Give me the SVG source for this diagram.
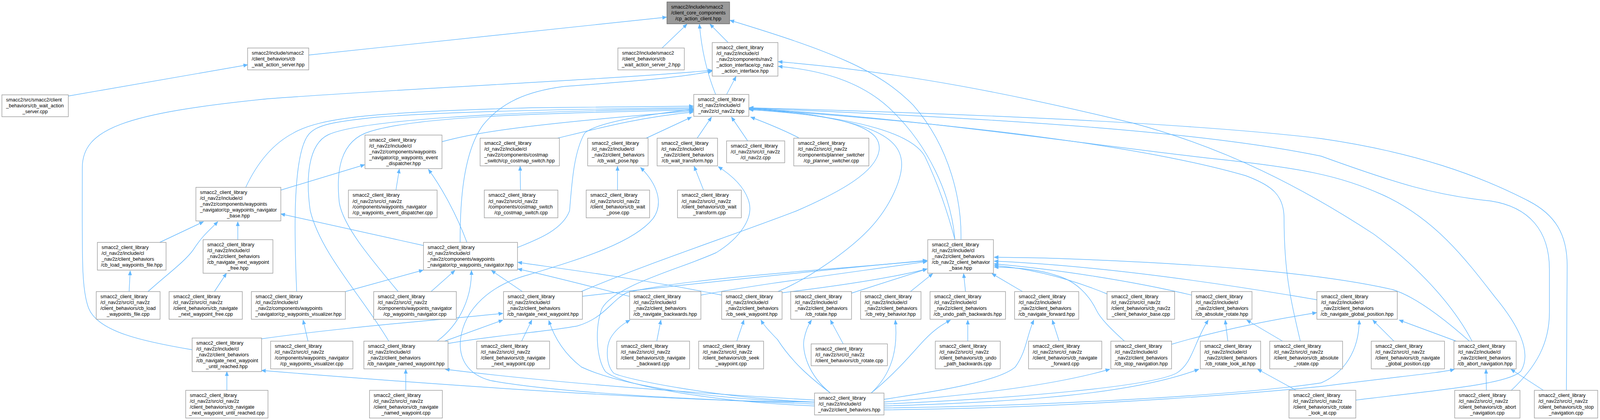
<svg xmlns="http://www.w3.org/2000/svg" width="4239" height="1076" viewBox="0 0 4239 1076">
<style>
.n rect{fill:#fff;stroke:#999;stroke-width:1.4}
.top rect{fill:#999;stroke:#666;stroke-width:1.4}
text{font-family:"Liberation Sans",Arial,sans-serif;font-size:13px;fill:#000}
.c{text-anchor:middle}
#edges path{fill:none;stroke:#63b8ff;stroke-width:1.4;marker-end:url(#ah)}
</style>
<defs>
<marker id="ah" markerWidth="12" markerHeight="10" refX="11" refY="5" orient="auto" markerUnits="userSpaceOnUse"><path d="M0,0.5 L11,5 L0,9.5 z" fill="#63b8ff" stroke="#63b8ff" stroke-width="1"/></marker>
</defs>
<rect width="4239" height="1076" fill="#fff"/>
<g id="diagram" transform="scale(0.966265,1)">
<g id="edges">
<path d="M818,141 L1766,44"/>
<path d="M1754,123 L1820,62"/>
<path d="M1896,242 C1870,180 1858,120 1853,62"/>
<path d="M1929,109 L1881,62"/>
<path d="M2546,614 C2548,520 2520,380 2420,270 C2330,180 2200,130 1934,52"/>
<path d="M1925,242 L1950,196"/>
<path d="M509,896 C380,875 260,850 235,790 C215,740 218,660 218,430 C218,330 330,290 710,253 C1100,225 1600,205 1887,180"/>
<path d="M1219,621 C1219,560 1219,400 1280,320 C1330,260 1400,234 1490,222 C1650,210 1800,200 1887,182"/>
<path d="M2530,614 C2520,500 2460,370 2354,275 C2280,210 2180,180 2062,170"/>
<path d="M3900,874 C3860,800 3780,700 3640,600 C3450,480 3250,380 3000,315 C2700,245 2400,185 2062,158"/>
<path d="M181,246 L656,166"/>
<path d="M651,480 C680,420 720,370 777,341 C850,300 1000,287 1410,276 L1837,272"/>
<path d="M786,747 C782,650 770,400 818,344 C840,320 880,312 1000,300 C1200,285 1500,280 1837,276"/>
<path d="M1030,874 C960,760 850,650 822,540 C810,460 815,370 870,345 C950,310 1300,285 1837,279"/>
<path d="M1055,747 C980,660 910,580 899,520 C890,440 900,360 980,337 C1100,300 1400,290 1837,282"/>
<path d="M1171,363 C1250,343 1350,322 1837,284"/>
<path d="M1477,354 C1600,325 1700,300 1837,287"/>
<path d="M1371,634 C1420,615 1490,590 1509,540 C1515,470 1520,390 1549,341 C1580,315 1700,295 1837,280"/>
<path d="M1712,354 L1832,300"/>
<path d="M1847,354 L1885,300"/>
<path d="M1981,361 L1938,300"/>
<path d="M2116,353 C2080,335 2030,315 1989,300"/>
<path d="M1540,747 C1700,680 1950,600 2111,540 C2230,490 2320,440 2329,386 C2335,340 2290,300 1985,276"/>
<path d="M2061,747 C2150,710 2250,640 2300,590 C2360,530 2395,450 2388,410 C2380,350 2300,300 1985,279"/>
<path d="M2530,614 C2515,560 2490,480 2450,400 C2420,350 2300,300 1985,281"/>
<path d="M4150,1000 L4152,680 C4152,600 4120,550 4050,515 C3920,450 3750,390 3500,355 C3200,320 2700,295 1985,276"/>
<path d="M4004,1000 C4070,940 4105,880 4105,800 L4105,690 C4105,590 4050,530 3950,515 C3800,500 3700,470 3500,400 C3200,340 2700,305 1985,277"/>
<path d="M3592,1025 C3800,1000 4000,985 4030,950 C4060,900 4020,830 3960,760 C3880,660 3800,560 3665,500 C3550,450 3450,430 3200,405 C2800,360 2400,300 1985,278"/>
<path d="M3445,874 C3420,770 3402,700 3402,560 C3402,500 3370,475 3300,450 C3050,380 2600,320 1985,279"/>
<path d="M601,1000 L601,952"/>
<path d="M2158,1030 C1900,1030 1400,1005 693,949"/>
<path d="M693,868 C900,840 1100,825 1332,803"/>
<path d="M423,621 L539,568"/>
<path d="M392,747 C440,705 490,670 512,640 C535,605 555,590 577,568"/>
<path d="M630,614 L630,568"/>
<path d="M568,747 L600,700"/>
<path d="M1122,629 L744,548"/>
<path d="M744,487 L966,422"/>
<path d="M1049,487 L1058,433"/>
<path d="M1237,621 C1210,550 1170,480 1135,434"/>
<path d="M1379,487 L1378,426"/>
<path d="M1636,487 L1636,426"/>
<path d="M2158,1035 C1900,1025 1500,1010 1300,975 C1240,960 1215,920 1220,870 C1230,790 1300,730 1400,704 C1550,660 1680,620 1730,560 C1760,520 1740,470 1697,429"/>
<path d="M1864,487 L1839,426"/>
<path d="M2158,1040 C1900,1030 1650,990 1604,952 C1580,920 1575,840 1595,790 C1630,730 1800,690 1898,647 C1960,610 1995,560 1985,520 C1975,480 1940,450 1903,427"/>
<path d="M915,747 L1121,692"/>
<path d="M1142,747 L1205,693"/>
<path d="M1158,874 C1220,830 1250,760 1249,693"/>
<path d="M1384,747 L1302,693"/>
<path d="M1912,756 C1700,715 1500,690 1372,672"/>
<path d="M1667,759 C1550,730 1450,705 1372,689"/>
<path d="M816,874 L803,820"/>
<path d="M342,747 L345,694"/>
<path d="M1075,1000 L1075,946"/>
<path d="M2158,1025 C1900,1010 1500,985 1180,946"/>
<path d="M1178,874 L1332,820"/>
<path d="M1382,874 L1409,820"/>
<path d="M2158,1030 C1900,1025 1650,990 1540,940 C1500,910 1470,870 1454,821"/>
<path d="M1543,759 C1900,720 2200,690 2456,667"/>
<path d="M1187,880 C1300,860 1450,850 1530,835 C1600,815 1620,770 1660,750 C1800,715 2200,690 2456,668"/>
<path d="M1857,756 C2000,730 2200,705 2456,670"/>
<path d="M2072,750 C2200,735 2350,715 2456,689"/>
<path d="M2256,751 L2456,689"/>
<path d="M2412,747 L2471,701"/>
<path d="M2558,747 L2553,701"/>
<path d="M2709,747 L2628,701"/>
<path d="M2933,753 C2850,720 2750,690 2634,680"/>
<path d="M3157,756 C3000,720 2800,690 2634,676"/>
<path d="M3489,768 C3200,720 2900,680 2634,669"/>
<path d="M2979,874 C2940,840 2915,815 2905,795 C2885,755 2850,720 2800,706 C2750,690 2700,686 2634,684"/>
<path d="M3893,874 C3830,820 3750,760 3690,742 C3500,700 3200,676 2800,662 C2750,660 2700,660 2634,659"/>
<path d="M1740,874 L1751,820"/>
<path d="M2158,1030 C1900,1020 1650,970 1626,956 C1605,935 1605,890 1617,867 C1630,845 1650,830 1669,820"/>
<path d="M1952,874 L1971,820"/>
<path d="M2200,1007 C2150,970 2100,930 2060,870 C2040,850 2025,835 2016,820"/>
<path d="M2234,881 L2200,820"/>
<path d="M2200,1007 C2140,960 2125,900 2130,870 C2135,845 2143,830 2150,820"/>
<path d="M2308,1007 C2360,960 2380,900 2372,820"/>
<path d="M2564,874 L2564,820"/>
<path d="M2308,1007 C2380,950 2420,900 2450,870 C2480,840 2500,830 2518,820"/>
<path d="M2806,874 L2788,820"/>
<path d="M2342,1023 C2500,1000 2650,975 2690,940 C2720,900 2720,860 2739,820"/>
<path d="M2342,1030 C2600,1010 2800,985 2940,946"/>
<path d="M2342,1035 C2700,1020 3050,990 3117,956 C3160,930 3162,880 3201,820"/>
<path d="M2342,1040 C2700,1030 3000,1010 3176,946"/>
<path d="M2342,1045 C2800,1040 3300,1010 3500,981 C3560,956 3601,900 3601,820"/>
<path d="M2342,1050 C2900,1045 3400,1000 3510,989 C3700,965 3820,955 3853,946"/>
<path d="M3253,874 L3246,820"/>
<path d="M3398,874 L3303,820"/>
<path d="M3434,1000 L3332,946"/>
<path d="M3104,882 C3250,840 3400,815 3488,801"/>
<path d="M3693,874 L3637,820"/>
<path d="M3858,874 L3707,820"/>
<path d="M3938,1000 L3937,946"/>
<path d="M4089,1000 L4003,946"/>
</g>
<g id="n_top" class="top"><rect x="1767" y="5" width="166" height="56"/><text x="1778" y="22.5">smacc2/include/smacc2</text><text x="1778" y="37.5">/client_core_components</text><text class="c" x="1850" y="52.5">/cp_action_client.hpp</text></g>
<g id="n_was_hpp" class="n"><rect x="656" y="123" width="162" height="56"/><text x="667" y="140.5">smacc2/include/smacc2</text><text x="667" y="155.5">/client_behaviors/cb</text><text class="c" x="737" y="170.5">_wait_action_server.hpp</text></g>
<g id="n_was2_hpp" class="n"><rect x="1637" y="123" width="176" height="56"/><text x="1648" y="140.5">smacc2/include/smacc2</text><text x="1648" y="155.5">/client_behaviors/cb</text><text class="c" x="1725" y="170.5">_wait_action_server_2.hpp</text></g>
<g id="n_nai" class="n"><rect x="1887" y="109" width="174" height="86"/><text x="1898" y="126.5">smacc2_client_library</text><text x="1898" y="141.5">/cl_nav2z/include/cl</text><text x="1898" y="156.5">_nav2z/components/nav2</text><text x="1898" y="171.5">_action_interface/cp_nav2</text><text class="c" x="1974" y="186.5">_action_interface.hpp</text></g>
<g id="n_was_cpp" class="n"><rect x="5" y="243" width="176" height="56"/><text x="16" y="260.5">smacc2/src/smacc2/client</text><text x="16" y="275.5">_behaviors/cb_wait_action</text><text class="c" x="93" y="290.5">_server.cpp</text></g>
<g id="n_cl" class="n"><rect x="1838" y="242" width="146" height="56"/><text x="1849" y="259.5">smacc2_client_library</text><text x="1849" y="274.5">/cl_nav2z/include/cl</text><text class="c" x="1911" y="289.5">_nav2z/cl_nav2z.hpp</text></g>
<g id="n_ed_hpp" class="n"><rect x="967" y="346" width="204" height="86"/><text x="978" y="363.5">smacc2_client_library</text><text x="978" y="378.5">/cl_nav2z/include/cl</text><text x="978" y="393.5">_nav2z/components/waypoints</text><text x="978" y="408.5">_navigator/cp_waypoints_event</text><text class="c" x="1069" y="423.5">_dispatcher.hpp</text></g>
<g id="n_cs_hpp" class="n"><rect x="1272" y="354" width="210" height="71"/><text x="1283" y="371.5">smacc2_client_library</text><text x="1283" y="386.5">/cl_nav2z/include/cl</text><text x="1283" y="401.5">_nav2z/components/costmap</text><text class="c" x="1377" y="416.5">_switch/cp_costmap_switch.hpp</text></g>
<g id="n_wp_hpp" class="n"><rect x="1557" y="354" width="160" height="71"/><text x="1568" y="371.5">smacc2_client_library</text><text x="1568" y="386.5">/cl_nav2z/include/cl</text><text x="1568" y="401.5">_nav2z/client_behaviors</text><text class="c" x="1637" y="416.5">/cb_wait_pose.hpp</text></g>
<g id="n_wt_hpp" class="n"><rect x="1741" y="354" width="160" height="71"/><text x="1752" y="371.5">smacc2_client_library</text><text x="1752" y="386.5">/cl_nav2z/include/cl</text><text x="1752" y="401.5">_nav2z/client_behaviors</text><text class="c" x="1821" y="416.5">/cb_wait_transform.hpp</text></g>
<g id="n_cl_cpp" class="n"><rect x="1925" y="361" width="154" height="56"/><text x="1936" y="378.5">smacc2_client_library</text><text x="1936" y="393.5">/cl_nav2z/src/cl_nav2z</text><text class="c" x="2002" y="408.5">/cl_nav2z.cpp</text></g>
<g id="n_ps_cpp" class="n"><rect x="2103" y="354" width="199" height="71"/><text x="2114" y="371.5">smacc2_client_library</text><text x="2114" y="386.5">/cl_nav2z/src/cl_nav2z</text><text x="2114" y="401.5">/components/planner_switcher</text><text class="c" x="2202.5" y="416.5">/cp_planner_switcher.cpp</text></g>
<g id="n_base" class="n"><rect x="519" y="480" width="225" height="86"/><text x="530" y="497.5">smacc2_client_library</text><text x="530" y="512.5">/cl_nav2z/include/cl</text><text x="530" y="527.5">_nav2z/components/waypoints</text><text x="530" y="542.5">_navigator/cp_waypoints_navigator</text><text class="c" x="631.5" y="557.5">_base.hpp</text></g>
<g id="n_ed_cpp" class="n"><rect x="923" y="487" width="235" height="71"/><text x="934" y="504.5">smacc2_client_library</text><text x="934" y="519.5">/cl_nav2z/src/cl_nav2z</text><text x="934" y="534.5">/components/waypoints_navigator</text><text class="c" x="1040.5" y="549.5">/cp_waypoints_event_dispatcher.cpp</text></g>
<g id="n_cs_cpp" class="n"><rect x="1283" y="487" width="195" height="71"/><text x="1294" y="504.5">smacc2_client_library</text><text x="1294" y="519.5">/cl_nav2z/src/cl_nav2z</text><text x="1294" y="534.5">/components/costmap_switch</text><text class="c" x="1380.5" y="549.5">/cp_costmap_switch.cpp</text></g>
<g id="n_wp_cpp" class="n"><rect x="1553" y="487" width="168" height="71"/><text x="1564" y="504.5">smacc2_client_library</text><text x="1564" y="519.5">/cl_nav2z/src/cl_nav2z</text><text x="1564" y="534.5">/client_behaviors/cb_wait</text><text class="c" x="1637" y="549.5">_pose.cpp</text></g>
<g id="n_wt_cpp" class="n"><rect x="1795" y="487" width="169" height="71"/><text x="1806" y="504.5">smacc2_client_library</text><text x="1806" y="519.5">/cl_nav2z/src/cl_nav2z</text><text x="1806" y="534.5">/client_behaviors/cb_wait</text><text class="c" x="1879.5" y="549.5">_transform.cpp</text></g>
<g id="n_lwf_hpp" class="n"><rect x="258" y="621" width="182" height="71"/><text x="269" y="638.5">smacc2_client_library</text><text x="269" y="653.5">/cl_nav2z/include/cl</text><text x="269" y="668.5">_nav2z/client_behaviors</text><text class="c" x="349" y="683.5">/cb_load_waypoints_file.hpp</text></g>
<g id="n_free_hpp" class="n"><rect x="538" y="614" width="185" height="86"/><text x="549" y="631.5">smacc2_client_library</text><text x="549" y="646.5">/cl_nav2z/include/cl</text><text x="549" y="661.5">_nav2z/client_behaviors</text><text x="549" y="676.5">/cb_navigate_next_waypoint</text><text class="c" x="630.5" y="691.5">_free.hpp</text></g>
<g id="n_wn_hpp" class="n"><rect x="1122" y="621" width="249" height="71"/><text x="1133" y="638.5">smacc2_client_library</text><text x="1133" y="653.5">/cl_nav2z/include/cl</text><text x="1133" y="668.5">_nav2z/components/waypoints</text><text class="c" x="1246.5" y="683.5">_navigator/cp_waypoints_navigator.hpp</text></g>
<g id="n_cbb_hpp" class="n"><rect x="2458" y="614" width="174" height="86"/><text x="2469" y="631.5">smacc2_client_library</text><text x="2469" y="646.5">/cl_nav2z/include/cl</text><text x="2469" y="661.5">_nav2z/client_behaviors</text><text x="2469" y="676.5">/cb_nav2z_client_behavior</text><text class="c" x="2545" y="691.5">_base.hpp</text></g>
<g id="n_lwf_cpp" class="n"><rect x="255" y="747" width="169" height="71"/><text x="266" y="764.5">smacc2_client_library</text><text x="266" y="779.5">/cl_nav2z/src/cl_nav2z</text><text x="266" y="794.5">/client_behaviors/cb_load</text><text class="c" x="339.5" y="809.5">_waypoints_file.cpp</text></g>
<g id="n_free_cpp" class="n"><rect x="448" y="747" width="194" height="71"/><text x="459" y="764.5">smacc2_client_library</text><text x="459" y="779.5">/cl_nav2z/src/cl_nav2z</text><text x="459" y="794.5">/client_behaviors/cb_navigate</text><text class="c" x="545" y="809.5">_next_waypoint_free.cpp</text></g>
<g id="n_vis_hpp" class="n"><rect x="666" y="747" width="249" height="71"/><text x="677" y="764.5">smacc2_client_library</text><text x="677" y="779.5">/cl_nav2z/include/cl</text><text x="677" y="794.5">_nav2z/components/waypoints</text><text class="c" x="790.5" y="809.5">_navigator/cp_waypoints_visualizer.hpp</text></g>
<g id="n_wn_cpp" class="n"><rect x="990" y="747" width="219" height="71"/><text x="1001" y="764.5">smacc2_client_library</text><text x="1001" y="779.5">/cl_nav2z/src/cl_nav2z</text><text x="1001" y="794.5">/components/waypoints_navigator</text><text class="c" x="1099.5" y="809.5">/cp_waypoints_navigator.cpp</text></g>
<g id="n_nw_hpp" class="n"><rect x="1334" y="747" width="209" height="71"/><text x="1345" y="764.5">smacc2_client_library</text><text x="1345" y="779.5">/cl_nav2z/include/cl</text><text x="1345" y="794.5">_nav2z/client_behaviors</text><text class="c" x="1438.5" y="809.5">/cb_navigate_next_waypoint.hpp</text></g>
<g id="n_nb_hpp" class="n"><rect x="1668" y="747" width="189" height="71"/><text x="1679" y="764.5">smacc2_client_library</text><text x="1679" y="779.5">/cl_nav2z/include/cl</text><text x="1679" y="794.5">_nav2z/client_behaviors</text><text class="c" x="1762.5" y="809.5">/cb_navigate_backwards.hpp</text></g>
<g id="n_sw_hpp" class="n"><rect x="1912" y="747" width="160" height="71"/><text x="1923" y="764.5">smacc2_client_library</text><text x="1923" y="779.5">/cl_nav2z/include/cl</text><text x="1923" y="794.5">_nav2z/client_behaviors</text><text class="c" x="1992" y="809.5">/cb_seek_waypoint.hpp</text></g>
<g id="n_rot_hpp" class="n"><rect x="2095" y="747" width="161" height="71"/><text x="2106" y="764.5">smacc2_client_library</text><text x="2106" y="779.5">/cl_nav2z/include/cl</text><text x="2106" y="794.5">_nav2z/client_behaviors</text><text class="c" x="2175.5" y="809.5">/cb_rotate.hpp</text></g>
<g id="n_retry_hpp" class="n"><rect x="2280" y="747" width="160" height="71"/><text x="2291" y="764.5">smacc2_client_library</text><text x="2291" y="779.5">/cl_nav2z/include/cl</text><text x="2291" y="794.5">_nav2z/client_behaviors</text><text class="c" x="2360" y="809.5">/cb_retry_behavior.hpp</text></g>
<g id="n_undo_hpp" class="n"><rect x="2464" y="747" width="200" height="71"/><text x="2475" y="764.5">smacc2_client_library</text><text x="2475" y="779.5">/cl_nav2z/include/cl</text><text x="2475" y="794.5">_nav2z/client_behaviors</text><text class="c" x="2564" y="809.5">/cb_undo_path_backwards.hpp</text></g>
<g id="n_fwd_hpp" class="n"><rect x="2688" y="747" width="170" height="71"/><text x="2699" y="764.5">smacc2_client_library</text><text x="2699" y="779.5">/cl_nav2z/include/cl</text><text x="2699" y="794.5">_nav2z/client_behaviors</text><text class="c" x="2773" y="809.5">/cb_navigate_forward.hpp</text></g>
<g id="n_cbb_cpp" class="n"><rect x="2933" y="747" width="179" height="71"/><text x="2944" y="764.5">smacc2_client_library</text><text x="2944" y="779.5">/cl_nav2z/src/cl_nav2z</text><text x="2944" y="794.5">/client_behaviors/cb_nav2z</text><text class="c" x="3022.5" y="809.5">_client_behavior_base.cpp</text></g>
<g id="n_abs_hpp" class="n"><rect x="3157" y="747" width="160" height="71"/><text x="3168" y="764.5">smacc2_client_library</text><text x="3168" y="779.5">/cl_nav2z/include/cl</text><text x="3168" y="794.5">_nav2z/client_behaviors</text><text class="c" x="3237" y="809.5">/cb_absolute_rotate.hpp</text></g>
<g id="n_gp_hpp" class="n"><rect x="3489" y="747" width="213" height="71"/><text x="3500" y="764.5">smacc2_client_library</text><text x="3500" y="779.5">/cl_nav2z/include/cl</text><text x="3500" y="794.5">_nav2z/client_behaviors</text><text class="c" x="3595.5" y="809.5">/cb_navigate_global_position.hpp</text></g>
<g id="n_ur_hpp" class="n"><rect x="509" y="866" width="184" height="86"/><text x="520" y="883.5">smacc2_client_library</text><text x="520" y="898.5">/cl_nav2z/include/cl</text><text x="520" y="913.5">_nav2z/client_behaviors</text><text x="520" y="928.5">/cb_navigate_next_waypoint</text><text class="c" x="601" y="943.5">_until_reached.hpp</text></g>
<g id="n_vis_cpp" class="n"><rect x="717" y="874" width="218" height="71"/><text x="728" y="891.5">smacc2_client_library</text><text x="728" y="906.5">/cl_nav2z/src/cl_nav2z</text><text x="728" y="921.5">/components/waypoints_navigator</text><text class="c" x="826" y="936.5">/cp_waypoints_visualizer.cpp</text></g>
<g id="n_nn_hpp" class="n"><rect x="964" y="874" width="223" height="71"/><text x="975" y="891.5">smacc2_client_library</text><text x="975" y="906.5">/cl_nav2z/include/cl</text><text x="975" y="921.5">_nav2z/client_behaviors</text><text class="c" x="1075.5" y="936.5">/cb_navigate_named_waypoint.hpp</text></g>
<g id="n_nw_cpp" class="n"><rect x="1263" y="874" width="193" height="71"/><text x="1274" y="891.5">smacc2_client_library</text><text x="1274" y="906.5">/cl_nav2z/src/cl_nav2z</text><text x="1274" y="921.5">/client_behaviors/cb_navigate</text><text class="c" x="1359.5" y="936.5">_next_waypoint.cpp</text></g>
<g id="n_nb_cpp" class="n"><rect x="1634" y="874" width="193" height="71"/><text x="1645" y="891.5">smacc2_client_library</text><text x="1645" y="906.5">/cl_nav2z/src/cl_nav2z</text><text x="1645" y="921.5">/client_behaviors/cb_navigate</text><text class="c" x="1730.5" y="936.5">_backward.cpp</text></g>
<g id="n_sw_cpp" class="n"><rect x="1851" y="874" width="172" height="71"/><text x="1862" y="891.5">smacc2_client_library</text><text x="1862" y="906.5">/cl_nav2z/src/cl_nav2z</text><text x="1862" y="921.5">/client_behaviors/cb_seek</text><text class="c" x="1937" y="936.5">_waypoint.cpp</text></g>
<g id="n_rot_cpp" class="n"><rect x="2149" y="881" width="202" height="56"/><text x="2160" y="898.5">smacc2_client_library</text><text x="2160" y="913.5">/cl_nav2z/src/cl_nav2z</text><text class="c" x="2250" y="928.5">/client_behaviors/cb_rotate.cpp</text></g>
<g id="n_undo_cpp" class="n"><rect x="2478" y="874" width="172" height="71"/><text x="2489" y="891.5">smacc2_client_library</text><text x="2489" y="906.5">/cl_nav2z/src/cl_nav2z</text><text x="2489" y="921.5">/client_behaviors/cb_undo</text><text class="c" x="2564" y="936.5">_path_backwards.cpp</text></g>
<g id="n_fwd_cpp" class="n"><rect x="2725" y="874" width="194" height="71"/><text x="2736" y="891.5">smacc2_client_library</text><text x="2736" y="906.5">/cl_nav2z/src/cl_nav2z</text><text x="2736" y="921.5">/client_behaviors/cb_navigate</text><text class="c" x="2822" y="936.5">_forward.cpp</text></g>
<g id="n_stop_hpp" class="n"><rect x="2943" y="874" width="161" height="71"/><text x="2954" y="891.5">smacc2_client_library</text><text x="2954" y="906.5">/cl_nav2z/include/cl</text><text x="2954" y="921.5">_nav2z/client_behaviors</text><text class="c" x="3023.5" y="936.5">/cb_stop_navigation.hpp</text></g>
<g id="n_rla_hpp" class="n"><rect x="3180" y="874" width="160" height="71"/><text x="3191" y="891.5">smacc2_client_library</text><text x="3191" y="906.5">/cl_nav2z/include/cl</text><text x="3191" y="921.5">_nav2z/client_behaviors</text><text class="c" x="3260" y="936.5">/cb_rotate_look_at.hpp</text></g>
<g id="n_abs_cpp" class="n"><rect x="3364" y="874" width="193" height="71"/><text x="3375" y="891.5">smacc2_client_library</text><text x="3375" y="906.5">/cl_nav2z/src/cl_nav2z</text><text x="3375" y="921.5">/client_behaviors/cb_absolute</text><text class="c" x="3460.5" y="936.5">_rotate.cpp</text></g>
<g id="n_gp_cpp" class="n"><rect x="3633" y="874" width="194" height="71"/><text x="3644" y="891.5">smacc2_client_library</text><text x="3644" y="906.5">/cl_nav2z/src/cl_nav2z</text><text x="3644" y="921.5">/client_behaviors/cb_navigate</text><text class="c" x="3730" y="936.5">_global_position.cpp</text></g>
<g id="n_abort_hpp" class="n"><rect x="3852" y="874" width="165" height="71"/><text x="3863" y="891.5">smacc2_client_library</text><text x="3863" y="906.5">/cl_nav2z/include/cl</text><text x="3863" y="921.5">_nav2z/client_behaviors</text><text class="c" x="3934.5" y="936.5">/cb_abort_navigation.hpp</text></g>
<g id="n_ur_cpp" class="n"><rect x="492" y="1000" width="218" height="71"/><text x="503" y="1017.5">smacc2_client_library</text><text x="503" y="1032.5">/cl_nav2z/src/cl_nav2z</text><text x="503" y="1047.5">/client_behaviors/cb_navigate</text><text class="c" x="601" y="1062.5">_next_waypoint_until_reached.cpp</text></g>
<g id="n_nn_cpp" class="n"><rect x="979" y="1000" width="193" height="71"/><text x="990" y="1017.5">smacc2_client_library</text><text x="990" y="1032.5">/cl_nav2z/src/cl_nav2z</text><text x="990" y="1047.5">/client_behaviors/cb_navigate</text><text class="c" x="1075.5" y="1062.5">_named_waypoint.cpp</text></g>
<g id="n_cbh" class="n"><rect x="2158" y="1007" width="184" height="56"/><text x="2169" y="1024.5">smacc2_client_library</text><text x="2169" y="1039.5">/cl_nav2z/include/cl</text><text class="c" x="2250" y="1054.5">_nav2z/client_behaviors.hpp</text></g>
<g id="n_rla_cpp" class="n"><rect x="3415" y="1000" width="177" height="71"/><text x="3426" y="1017.5">smacc2_client_library</text><text x="3426" y="1032.5">/cl_nav2z/src/cl_nav2z</text><text x="3426" y="1047.5">/client_behaviors/cb_rotate</text><text class="c" x="3503.5" y="1062.5">_look_at.cpp</text></g>
<g id="n_abort_cpp" class="n"><rect x="3854" y="1000" width="173" height="71"/><text x="3865" y="1017.5">smacc2_client_library</text><text x="3865" y="1032.5">/cl_nav2z/src/cl_nav2z</text><text x="3865" y="1047.5">/client_behaviors/cb_abort</text><text class="c" x="3940.5" y="1062.5">_navigation.cpp</text></g>
<g id="n_stop_cpp" class="n"><rect x="4065" y="1000" width="168" height="71"/><text x="4076" y="1017.5">smacc2_client_library</text><text x="4076" y="1032.5">/cl_nav2z/src/cl_nav2z</text><text x="4076" y="1047.5">/client_behaviors/cb_stop</text><text class="c" x="4149" y="1062.5">_navigation.cpp</text></g>
</g>
</svg>
